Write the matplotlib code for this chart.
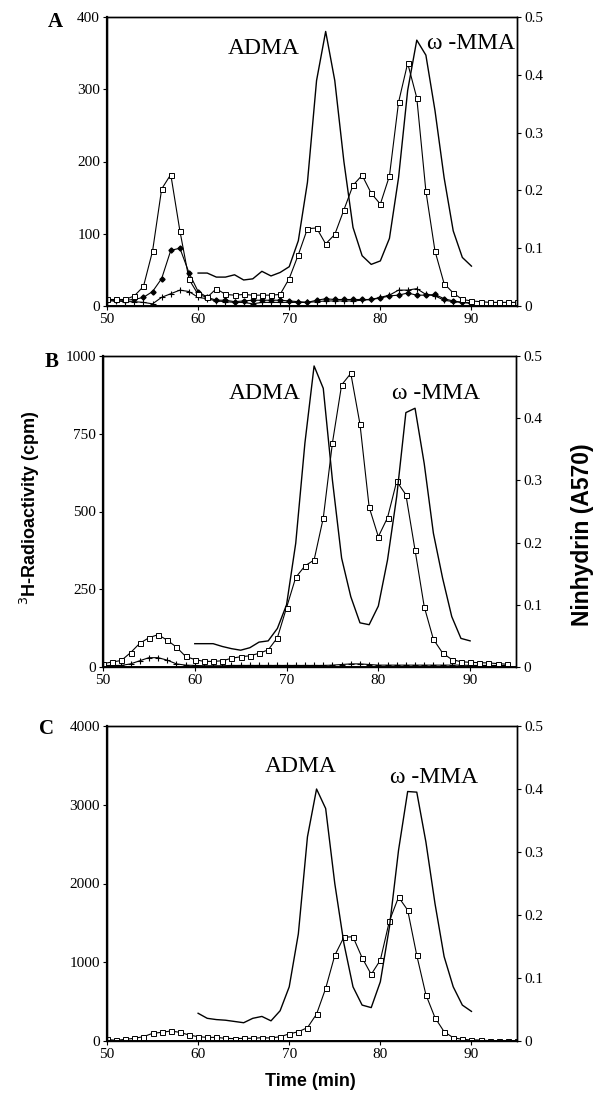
import matplotlib
matplotlib.use("Agg")
import matplotlib.pyplot as plt

plt.rcParams['font.family'] = ['Liberation Serif', 'DejaVu Serif']

# ---- data ----
t_full = list(range(50, 96))      # 50..95 min
t_b = list(range(50, 95))         # 50..94 min
t_short = list(range(50, 91))     # 50..90 min
t_nin = list(range(60, 91))       # ninhydrin, 60..90 min

# panel A
a_squares = [9, 9, 9, 14, 27, 76, 162, 182, 104, 37,
             16, 12, 24, 16, 15, 16, 15, 15, 15, 16,
             38, 71, 107, 108, 86, 99, 133, 167, 181, 156,
             141, 180, 282, 336, 288, 159, 76, 31, 18, 9,
             7, 6, 5, 5, 5, 5]
a_diamonds = [8, 8, 8, 9, 12, 20, 38, 77, 80, 46,
              20, 12, 8, 8, 6, 7, 8, 8, 8, 8,
              7, 6, 5, 8, 10, 9, 9, 9, 9, 9,
              11, 14, 15, 18, 15, 15, 16, 10, 7, 5,
              4]
a_plus = [7, 7, 6, 6, 5, 3, 12, 17, 22, 20,
          12, 10, 7, 6, 5, 5, 3, 5, 5, 5,
          5, 5, 5, 6, 7, 7, 7, 7, 8, 9,
          12, 15, 22, 22, 24, 16, 14, 8, 6, 5,
          4]
a_ninhydrin = [0.057, 0.057, 0.050, 0.050, 0.054, 0.045, 0.047, 0.060, 0.052, 0.058,
               0.068, 0.113, 0.214, 0.390, 0.475, 0.390, 0.250, 0.136, 0.087, 0.072,
               0.078, 0.117, 0.222, 0.373, 0.460, 0.434, 0.338, 0.222, 0.130, 0.084,
               0.069]

# panel B
b_squares = [11, 16, 21, 46, 76, 94, 104, 86, 64, 34,
             24, 18, 18, 20, 28, 33, 36, 44, 55, 94,
             191, 288, 325, 344, 479, 721, 907, 944, 781, 514,
             419, 480, 597, 554, 376, 194, 89, 45, 24, 17,
             15, 14, 13, 11, 9]
b_plus = [5, 5, 5, 10, 20, 30, 30, 22, 10, 6,
          5, 4, 4, 4, 5, 5, 5, 5, 5, 5,
          5, 5, 5, 5, 5, 6, 8, 10, 10, 8,
          6, 6, 6, 6, 6, 6, 6, 6, 6, 6,
          5, 5, 5, 5, 5]
b_ninhydrin = [0.0375, 0.0375, 0.0375, 0.033, 0.0295, 0.027, 0.031, 0.040, 0.042, 0.062,
               0.100, 0.199, 0.360, 0.484, 0.448, 0.300, 0.175, 0.113, 0.071, 0.068,
               0.098, 0.172, 0.274, 0.409, 0.416, 0.327, 0.215, 0.143, 0.081, 0.046,
               0.042]

# panel C
c_squares = [21, 8, 21, 34, 55, 97, 110, 127, 110, 76,
             55, 46, 46, 34, 30, 34, 34, 42, 38, 55,
             90, 118, 169, 342, 668, 1087, 1319, 1323, 1057, 846,
             1027, 1526, 1827, 1662, 1087, 588, 296, 118, 42, 21,
             13, 13, 4, 4, 4, 2]
c_ninhydrin = [0.044, 0.036, 0.034, 0.033, 0.031, 0.029, 0.036, 0.039, 0.032, 0.048,
               0.086, 0.170, 0.324, 0.400, 0.369, 0.250, 0.155, 0.086, 0.057, 0.053,
               0.094, 0.181, 0.303, 0.396, 0.395, 0.316, 0.218, 0.134, 0.086, 0.057,
               0.047]

left_ticks = {'A': [0, 100, 200, 300, 400],
              'B': [0, 250, 500, 750, 1000],
              'C': [0, 1000, 2000, 3000, 4000]}
right_ticks = [0, 0.1, 0.2, 0.3, 0.4, 0.5]
right_labels = ['0', '0.1', '0.2', '0.3', '0.4', '0.5']
x_ticks = [50, 60, 70, 80, 90]

W, H = 593, 1096
fig = plt.figure(figsize=(W / 100, H / 100), dpi=100)


def px_axes(l, r, t, b):
    return fig.add_axes([l / W, 1 - b / H, (r - l) / W, (b - t) / H])


def style(ax, ax2, letter):
    ax.set_xlim(50, 95)
    yt = left_ticks[letter]
    ax.set_ylim(0, yt[-1])
    ax.set_yticks(yt)
    ax.set_xticks(x_ticks)
    ax2.set_ylim(0, 0.5)
    ax2.set_yticks(right_ticks)
    ax2.set_yticklabels(right_labels)
    for a in (ax, ax2):
        a.tick_params(labelsize=11, length=3, width=0.8, pad=2, direction='out')
        for s in a.spines.values():
            s.set_linewidth(1.0)
    ax.spines['left'].set_linewidth(1.6)
    ax.spines['bottom'].set_linewidth(1.4)


def annotate(ax, admax, admay, mmax, mmay):
    ax.text(admax, admay, 'ADMA', fontsize=17, ha='left', va='center')
    ax.text(mmax, mmay, 'ω -MMA', fontsize=17, ha='left', va='center')


sq = dict(color='black', lw=0.8, marker='s', ms=3.6, mfc='white', mec='black', mew=0.7)
dm = dict(color='black', lw=0.8, marker='D', ms=2.6, mfc='black', mec='black')
pl = dict(color='black', lw=0.8, marker='+', ms=5, mew=0.8)
nl = dict(color='black', lw=1.0)

# ---- panel A ----
axA = px_axes(107, 517, 17, 306)
axA2 = axA.twinx()
axA2.plot(t_nin, a_ninhydrin, **nl)
axA.plot(t_short, a_plus, **pl)
axA.plot(t_short, a_diamonds, **dm)
axA.plot(t_full, a_squares, **sq)
style(axA, axA2, 'A')
annotate(axA, 63.3, 357, 85.1, 364)

# ---- panel B ----
axB = px_axes(103, 516, 356, 667)
axB2 = axB.twinx()
axB2.plot(t_nin, b_ninhydrin, **nl)
axB.plot(t_b, b_plus, **pl)
axB.plot(t_b, b_squares, **sq)
style(axB, axB2, 'B')
annotate(axB, 63.7, 881, 81.5, 878)

# ---- panel C ----
axC = px_axes(107, 517, 726, 1041)
axC2 = axC.twinx()
axC2.plot(t_nin, c_ninhydrin, **nl)
axC.plot(t_full, c_squares, **sq)
style(axC, axC2, 'C')
annotate(axC, 67.3, 3492, 81.1, 3340)

# panel letters
for letter, (x, y) in {'A': (55, 22), 'B': (52, 362), 'C': (47, 729)}.items():
    fig.text(x / W, 1 - y / H, letter, fontsize=15, fontweight='bold',
             ha='center', va='center')

# axis titles
fig.text(30 / W, 1 - 508 / H, '$^{3}$H-Radioactivity (cpm)', rotation=90,
         family='Liberation Sans', fontweight='bold', fontsize=13,
         ha='center', va='center')
fig.text(582 / W, 1 - 535 / H, 'Ninhydrin (A570)', rotation=90,
         family='Liberation Sans', fontweight='bold', fontsize=16.5,
         ha='center', va='center')
fig.text(310 / W, 1 - 1082 / H, 'Time (min)',
         family='Liberation Sans', fontweight='bold', fontsize=13,
         ha='center', va='center')

fig.savefig('out.png', dpi=100)
